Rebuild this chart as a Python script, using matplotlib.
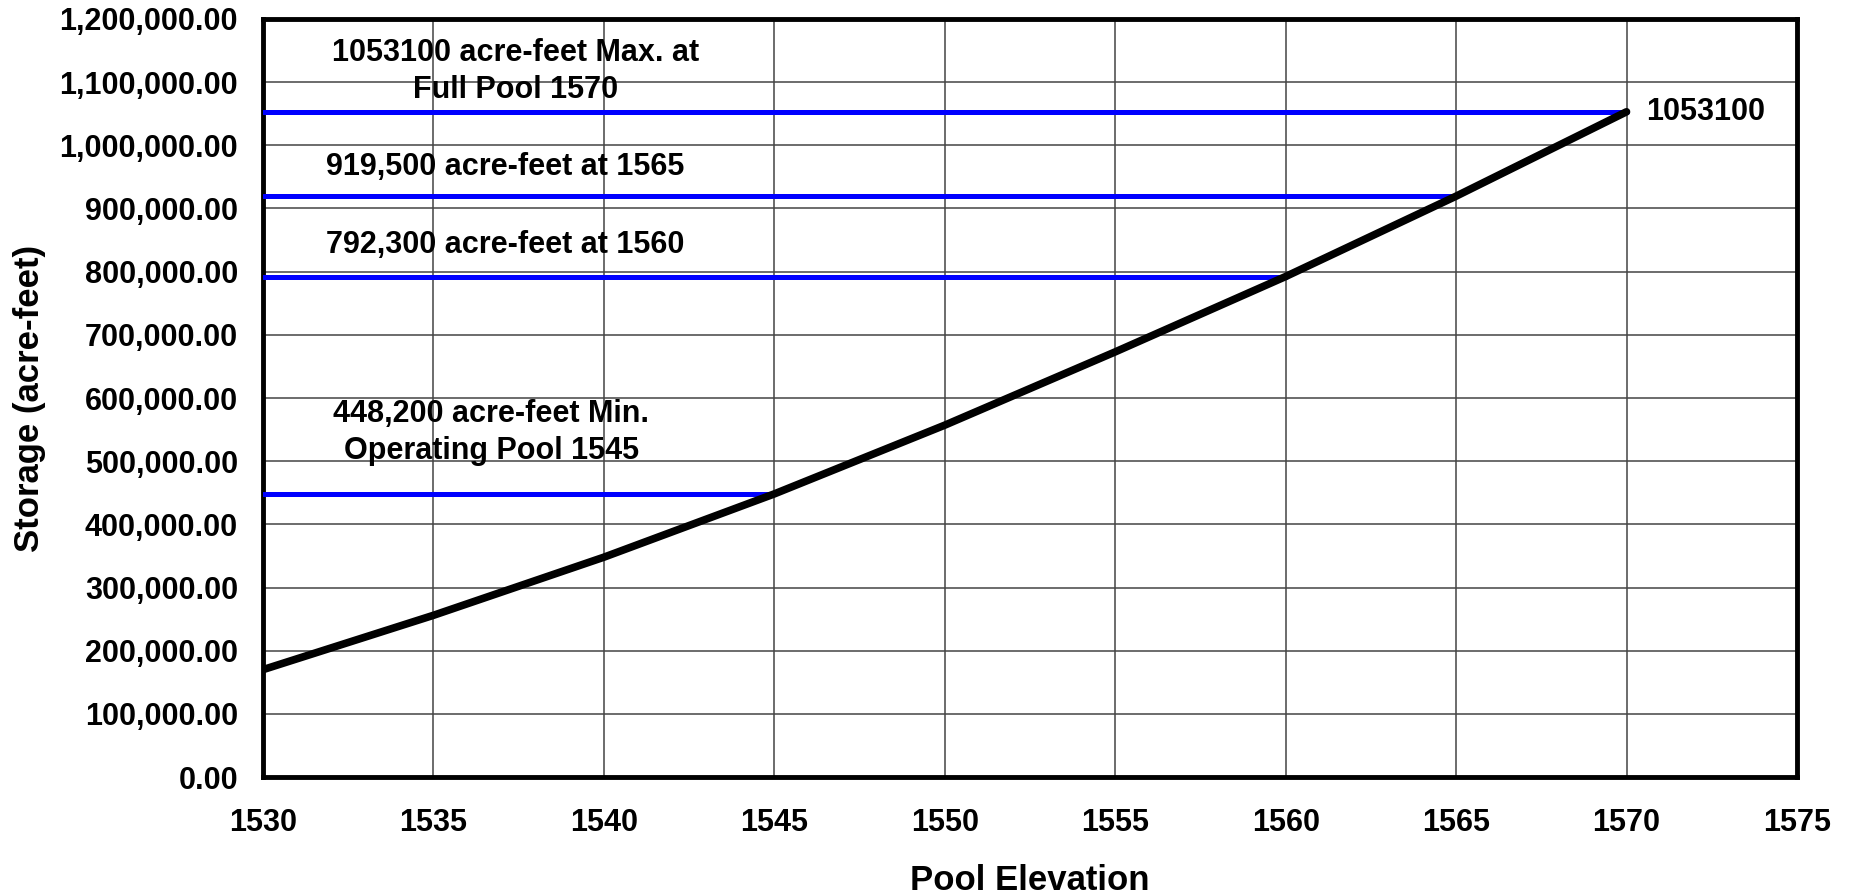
import matplotlib.pyplot as plt
from matplotlib.ticker import FuncFormatter, MultipleLocator

# pool elevation vs storage
elevation = [1530, 1535, 1540, 1545, 1550, 1555, 1560, 1565, 1570]
storage = [170000, 256000, 348000, 448200, 557000, 673000, 792300, 919500, 1053100]

# reference pools (elevation, storage)
ref_elev = [1545, 1560, 1565, 1570]
ref_storage = [448200, 792300, 919500, 1053100]
ref_labels = [
    "448,200 acre-feet Min.\nOperating Pool 1545",
    "792,300 acre-feet at 1560",
    "919,500 acre-feet at 1565",
    "1053100 acre-feet Max. at\nFull Pool 1570",
]
ref_label_pos = [(1536.7, 545000), (1537.1, 843000), (1537.1, 966000), (1537.4, 1117000)]

plt.rcParams["font.family"] = ["Liberation Sans", "DejaVu Sans"]
plt.rcParams["font.weight"] = "bold"

fig = plt.figure(figsize=(18.55, 8.96), dpi=100)
ax = fig.add_axes([0.1418, 0.1328, 0.8269, 0.846])

for e, s in zip(ref_elev, ref_storage):
    ax.plot([1530, e], [s, s], color="#0000FF", lw=3.6, solid_capstyle="round", zorder=3)

ax.plot(elevation, storage, color="black", lw=5.5, solid_capstyle="round",
        solid_joinstyle="round", zorder=4)

for txt, (x, y) in zip(ref_labels, ref_label_pos):
    ax.text(x, y, txt, ha="center", va="center", fontsize=22, fontweight="bold",
            linespacing=1.3, zorder=5)

ax.annotate(f"{ref_storage[-1]}", (elevation[-1], storage[-1]), xytext=(14, 0),
            textcoords="offset points", ha="left", va="center",
            fontsize=22, fontweight="bold")

ax.set_xlim(1530, 1575)
ax.set_ylim(0, 1200000)
ax.xaxis.set_major_locator(MultipleLocator(5))
ax.yaxis.set_major_locator(MultipleLocator(100000))
ax.yaxis.set_major_formatter(FuncFormatter(lambda v, p: f"{v:,.2f}"))
ax.grid(True, color="#444444", lw=1.1)
ax.set_axisbelow(True)
ax.tick_params(length=0, labelsize=22)
ax.tick_params(axis="x", pad=22)
ax.tick_params(axis="y", pad=18)
for lab in ax.get_xticklabels() + ax.get_yticklabels():
    lab.set_fontweight("bold")
for sp in ax.spines.values():
    sp.set_linewidth(3.5)

ax.set_xlabel("Pool Elevation", fontsize=25, fontweight="bold", labelpad=19)
ax.set_ylabel("Storage (acre-feet)", fontsize=25, fontweight="bold", labelpad=10)

fig.savefig("out.png", dpi=100)
